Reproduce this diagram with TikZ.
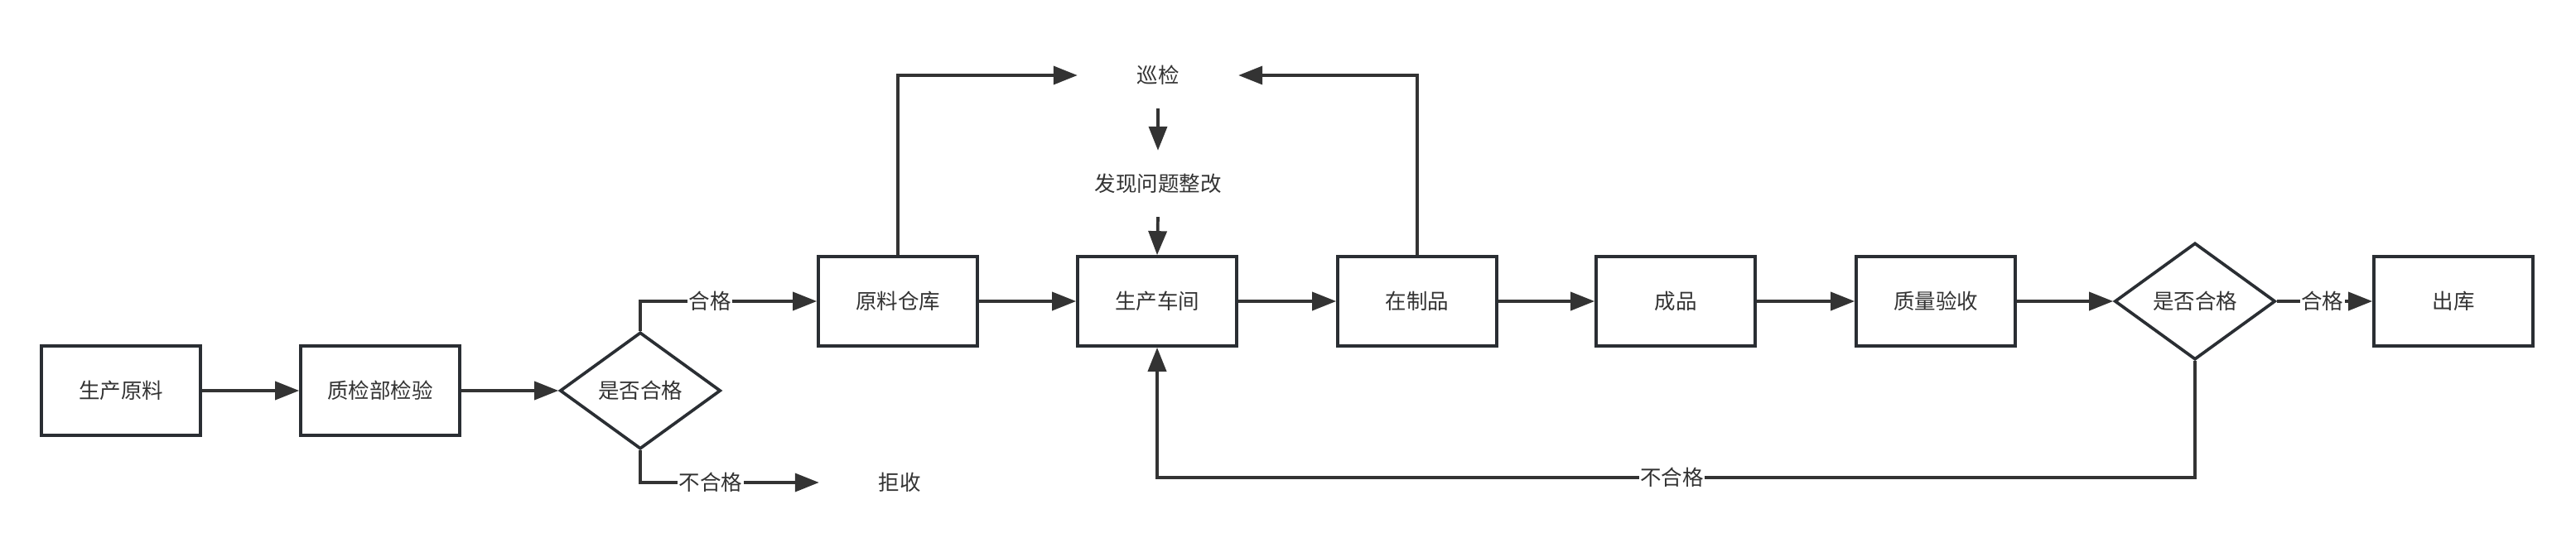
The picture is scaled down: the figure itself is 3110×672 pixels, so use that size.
\documentclass[tikz,border=0pt]{standalone}
\usepackage{fontspec}
\setmainfont{Noto Sans CJK SC}
\usetikzlibrary{shapes.geometric, arrows.meta}
\definecolor{ln}{HTML}{333333}
\definecolor{bd}{HTML}{2A2E33}
\newcommand{\dgfont}{\fontsize{25.5}{30}\selectfont}
\begin{document}
\begin{tikzpicture}[x=1pt,y=-1pt,
  box/.style={draw=bd, line width=3.7pt, rectangle, minimum width=192pt, minimum height=108pt, inner sep=0pt, font=\dgfont, text=ln},
  dia/.style={draw=bd, line width=3.7pt, diamond, minimum width=194pt, minimum height=141pt, inner sep=0pt, font=\dgfont, text=ln},
  plain/.style={rectangle, minimum width=194pt, minimum height=80pt, inner sep=0pt, font=\dgfont, text=ln},
  lbl/.style={fill=white, inner sep=1.5pt, font=\dgfont, text=ln},
  arr/.style={draw=ln, line width=3.7pt, -{Triangle[length=29pt,width=22pt]}}]
\useasboundingbox (0,0) rectangle (3110,672);
\node[box] (m1) at (146,472) {生产原料};
\node[box] (m2) at (459,472) {质检部检验};
\node[dia] (d1) at (773,472) {是否合格};
\node[box] (raw) at (1084,364) {原料仓库};
\node[plain] (rej) at (1086,583) {拒收};
\node[box] (shop) at (1397,364) {生产车间};
\node[plain] (xj) at (1398,91) {巡检};
\node[plain] (fx) at (1398,222) {发现问题整改};
\node[box] (wip) at (1711,364) {在制品};
\node[box] (fp) at (2023,364) {成品};
\node[box] (qa) at (2337,364) {质量验收};
\node[dia] (d2) at (2650,364) {是否合格};
\node[box] (out) at (2962,364) {出库};
\coordinate (fb) at (2650,577);

\draw[arr] (m1.east) -- (m2.west);
\draw[arr] (m2.east) -- (d1.west);
\draw[arr] (d1.north) |- node[lbl,pos=0.698]{合格} (raw.west);
\draw[arr] (d1.south) |- node[lbl,pos=0.697]{不合格} (rej.west);
\draw[arr] (raw.east) -- (shop.west);
\draw[arr] (shop.east) -- (wip.west);
\draw[arr] (wip.east) -- (fp.west);
\draw[arr] (fp.east) -- (qa.west);
\draw[arr] (qa.east) -- (d2.west);
\draw[arr] (d2.east) -- node[lbl,pos=0.475]{合格} (out.west);
\draw[arr] (raw.north) |- (xj.west);
\draw[arr] (wip.north) |- (xj.east);
\draw[arr] (xj.south) -- (fx.north);
\draw[arr] (fx.south) -- (shop.north);
\draw[arr] (d2.south) -- (fb) -| node[lbl,pos=0.252]{不合格} (shop.south);
\end{tikzpicture}
\end{document}
